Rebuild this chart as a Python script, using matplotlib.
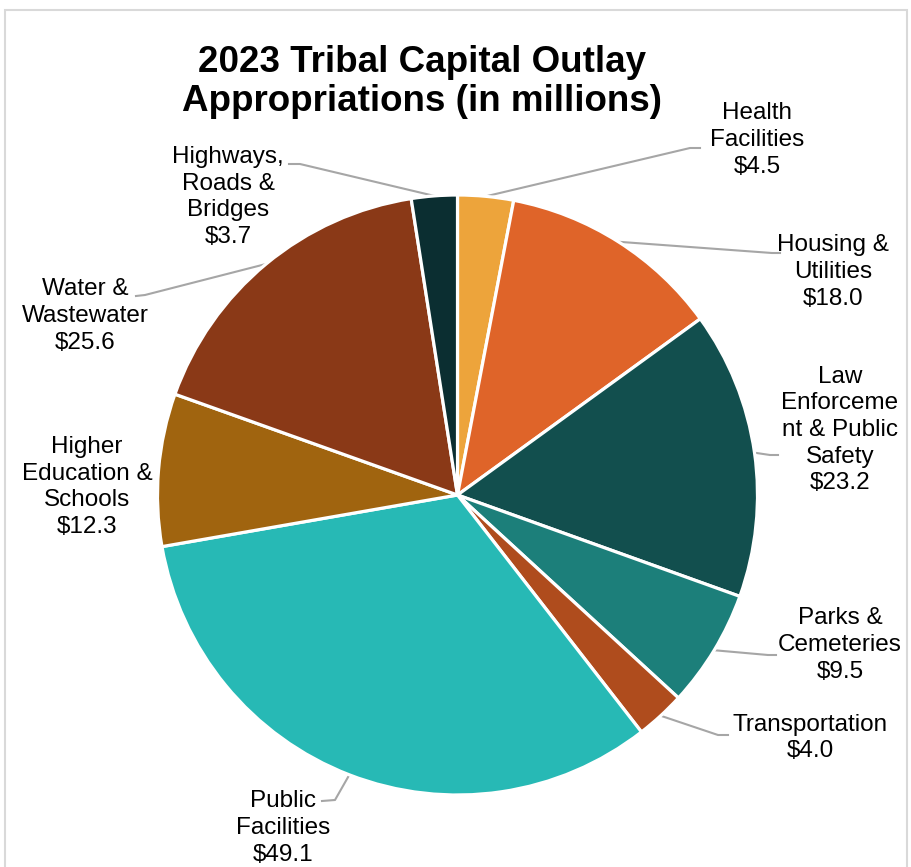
import numpy as np
import matplotlib.pyplot as plt
from matplotlib.patches import Rectangle

plt.rcParams['font.family'] = ['Liberation Sans', 'DejaVu Sans']

# ===== Data =====
categories = ["Health\nFacilities", "Housing &\nUtilities", "Law\nEnforceme\nnt & Public\nSafety",
              "Parks &\nCemeteries", "Transportation", "Public\nFacilities",
              "Higher\nEducation &\nSchools", "Water &\nWastewater", "Highways,\nRoads &\nBridges"]
values = [4.5, 18.0, 23.2, 9.5, 4.0, 49.1, 12.3, 25.6, 3.7]
colors = ["#EDA43B", "#DF6429", "#124F4E", "#1C7F7A", "#AF4C1D",
          "#27B9B5", "#A0640F", "#8A3917", "#0B2E31"]

# label centre (px) and leader elbow (px) for each slice
label_px = [(757, 140), (833, 272), (840, 430), (840, 645), (810, 738),
            (283, 828), (87, 487), (85, 316), (228, 197)]
elbow_px = [(690, 148), (772, 253), (770, 455), (768, 655), (718, 735),
            (335, 800), None, (145, 295), (300, 164)]
end_px = [(700, 148), (780, 253), (778, 455), (776, 655), (728, 735),
          (322, 801), None, (136, 296), (289, 164)]

W, H = 911, 867
cx, cy, R = 457.5, 495, 300

fig = plt.figure(figsize=(W / 100, H / 100), dpi=100)
ax = fig.add_axes([0, 0, 1, 1])

def px(p):
    return ((p[0] - cx) / R, (cy - p[1]) / R)

wedges, _ = ax.pie(values, colors=colors, startangle=90, counterclock=False,
                   radius=1.0, wedgeprops=dict(edgecolor='white', linewidth=2.3))

ax.set_xlim(-cx / R, (W - cx) / R)
ax.set_ylim(-(H - cy) / R, cy / R)
ax.set_aspect('equal', adjustable='datalim')
ax.axis('off')

for w, lab, v, lp, el, en in zip(wedges, categories, values, label_px, elbow_px, end_px):
    ax.text(*px(lp), f"{lab}\n${v:.1f}", ha='center', va='center',
            fontsize=17.5, linespacing=1.27, color='black')
    if el is None:
        continue
    ang = np.deg2rad((w.theta1 + w.theta2) / 2)
    x0, y0 = np.cos(ang) * 1.0, np.sin(ang) * 1.0
    ex, ey = px(el)
    nx, ny = px(en)
    ax.plot([x0, ex, nx], [y0, ey, ny], color='#A6A6A6', lw=1.5, zorder=0)

fig.text(422 / W, 1 - 82 / H, "2023 Tribal Capital Outlay\nAppropriations (in millions)",
         ha='center', va='center', fontsize=26.5, fontweight='bold', linespacing=1.17)

fig.patches.append(Rectangle((5 / W, -0.01), (W - 9) / W, 1 - 10 / H + 0.01,
                             transform=fig.transFigure, fill=False,
                             edgecolor='#D9D9D9', lw=1.5))

plt.savefig("out.png", dpi=100)
